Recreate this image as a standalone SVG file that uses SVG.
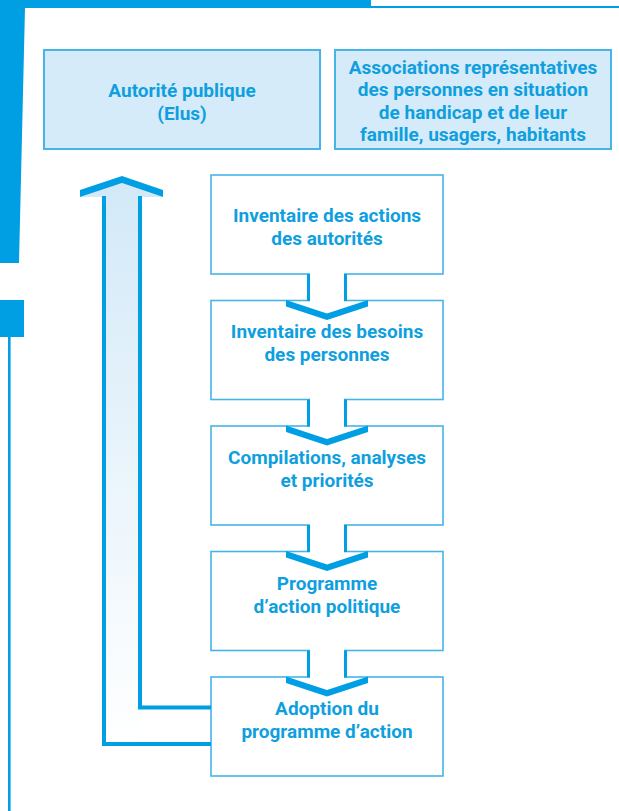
<svg xmlns="http://www.w3.org/2000/svg" width="619" height="811" viewBox="0 0 619 811">
  <defs>
    <linearGradient id="shaftGrad" x1="0" y1="183" x2="0" y2="744" gradientUnits="userSpaceOnUse">
      <stop offset="0" stop-color="#d3e9f8"/>
      <stop offset="1" stop-color="#ffffff"/>
    </linearGradient>
    <style>
      .deco { fill: #009fe3; }
      .topbox { fill: #d5ebf9; stroke: #45b5e8; stroke-width: 2; }
      .box { fill: #ffffff; stroke: #45b5e8; stroke-width: 1.6; }
      .lbl { font-family: Roboto, "Liberation Sans", sans-serif; font-weight: 700; font-size: 19px; fill: #0f9fdf; text-anchor: middle; }
      .stem { stroke: #009fe3; stroke-width: 3; fill: none; }
      .chev { fill: #009fe3; }
      .erase { fill: #ffffff; }
      .shaft { stroke: #009fe3; stroke-width: 4; fill: none; }
    </style>
  </defs>

  <!-- page decoration -->
  <g id="decoration">
    <polygon class="deco" points="0,0 371,0 371,8 25,8 19,263 0,263"/>
    <rect class="deco" x="371" y="6" width="248" height="2"/>
    <rect class="deco" x="0" y="300" width="24" height="37"/>
    <rect class="deco" x="8" y="337" width="2.6" height="474"/>
  </g>

  <g id="autorite">
    <rect class="topbox" x="44" y="50" width="276" height="99"/>
    <text class="lbl" x="182" y="96.5">Autorité publique</text>
    <text class="lbl" x="182" y="119.5">(Elus)</text>
  </g>

  <g id="associations">
    <rect class="topbox" x="335" y="50" width="276" height="99"/>
    <text class="lbl" x="473" y="73.5">Associations représentatives</text>
    <text class="lbl" x="473" y="96">des personnes en situation</text>
    <text class="lbl" x="473" y="118.5">de handicap et de leur</text>
    <text class="lbl" x="473" y="141">famille, usagers, habitants</text>
  </g>

  <g id="inventaire-actions">
    <rect class="box" x="211" y="175" width="232" height="99"/>
    <text class="lbl" x="327" y="221.5">Inventaire des actions</text>
    <text class="lbl" x="327" y="244.5">des autorités</text>
  </g>

  <g id="inventaire-besoins">
    <rect class="box" x="211" y="300.5" width="232" height="99"/>
    <text class="lbl" x="327" y="337.5">Inventaire des besoins</text>
    <text class="lbl" x="327" y="360.5">des personnes</text>
  </g>

  <g id="compilations">
    <rect class="box" x="211" y="426" width="232" height="99"/>
    <text class="lbl" x="327" y="463.5">Compilations, analyses</text>
    <text class="lbl" x="327" y="487">et priorités</text>
  </g>

  <g id="programme">
    <rect class="box" x="211" y="551.5" width="232" height="99"/>
    <text class="lbl" x="327" y="589.5">Programme</text>
    <text class="lbl" x="327" y="612.5">d’action politique</text>
  </g>

  <g id="adoption">
    <rect class="box" x="211" y="677" width="232" height="99"/>
    <text class="lbl" x="327" y="715">Adoption du</text>
    <text class="lbl" x="327" y="737.5">programme d’action</text>
  </g>

  <g id="connectors">
    <!-- down arrows between flow boxes -->
    <g transform="translate(0,0)">
      <rect class="erase" x="310" y="272" width="34" height="31"/>
      <line class="stem" x1="308.5" y1="274" x2="308.5" y2="301"/>
      <line class="stem" x1="345.5" y1="274" x2="345.5" y2="301"/>
      <polygon class="chev" points="286,300 327,313.5 368,300 368,306.5 327,320 286,306.5"/>
    </g>
    <g transform="translate(0,125.5)">
      <rect class="erase" x="310" y="272" width="34" height="31"/>
      <line class="stem" x1="308.5" y1="274" x2="308.5" y2="301"/>
      <line class="stem" x1="345.5" y1="274" x2="345.5" y2="301"/>
      <polygon class="chev" points="286,300 327,313.5 368,300 368,306.5 327,320 286,306.5"/>
    </g>
    <g transform="translate(0,251)">
      <rect class="erase" x="310" y="272" width="34" height="31"/>
      <line class="stem" x1="308.5" y1="274" x2="308.5" y2="301"/>
      <line class="stem" x1="345.5" y1="274" x2="345.5" y2="301"/>
      <polygon class="chev" points="286,300 327,313.5 368,300 368,306.5 327,320 286,306.5"/>
    </g>
    <g transform="translate(0,376.5)">
      <rect class="erase" x="310" y="272" width="34" height="31"/>
      <line class="stem" x1="308.5" y1="274" x2="308.5" y2="301"/>
      <line class="stem" x1="345.5" y1="274" x2="345.5" y2="301"/>
      <polygon class="chev" points="286,300 327,313.5 368,300 368,306.5 327,320 286,306.5"/>
    </g>

    <!-- feedback arrow from adoption back up to autorité -->
    <polygon fill="url(#shaftGrad)" points="80,197 122,183 163,197 140,197 140,744 104,744 104,197"/>
    <polygon class="chev" points="80,190 122,176 163,190 163,197 122,183 80,197"/>
    <polyline class="shaft" points="104,196 104,744 211,744"/>
    <polyline class="shaft" points="140,196 140,707.5 211,707.5"/>
  </g>
</svg>
